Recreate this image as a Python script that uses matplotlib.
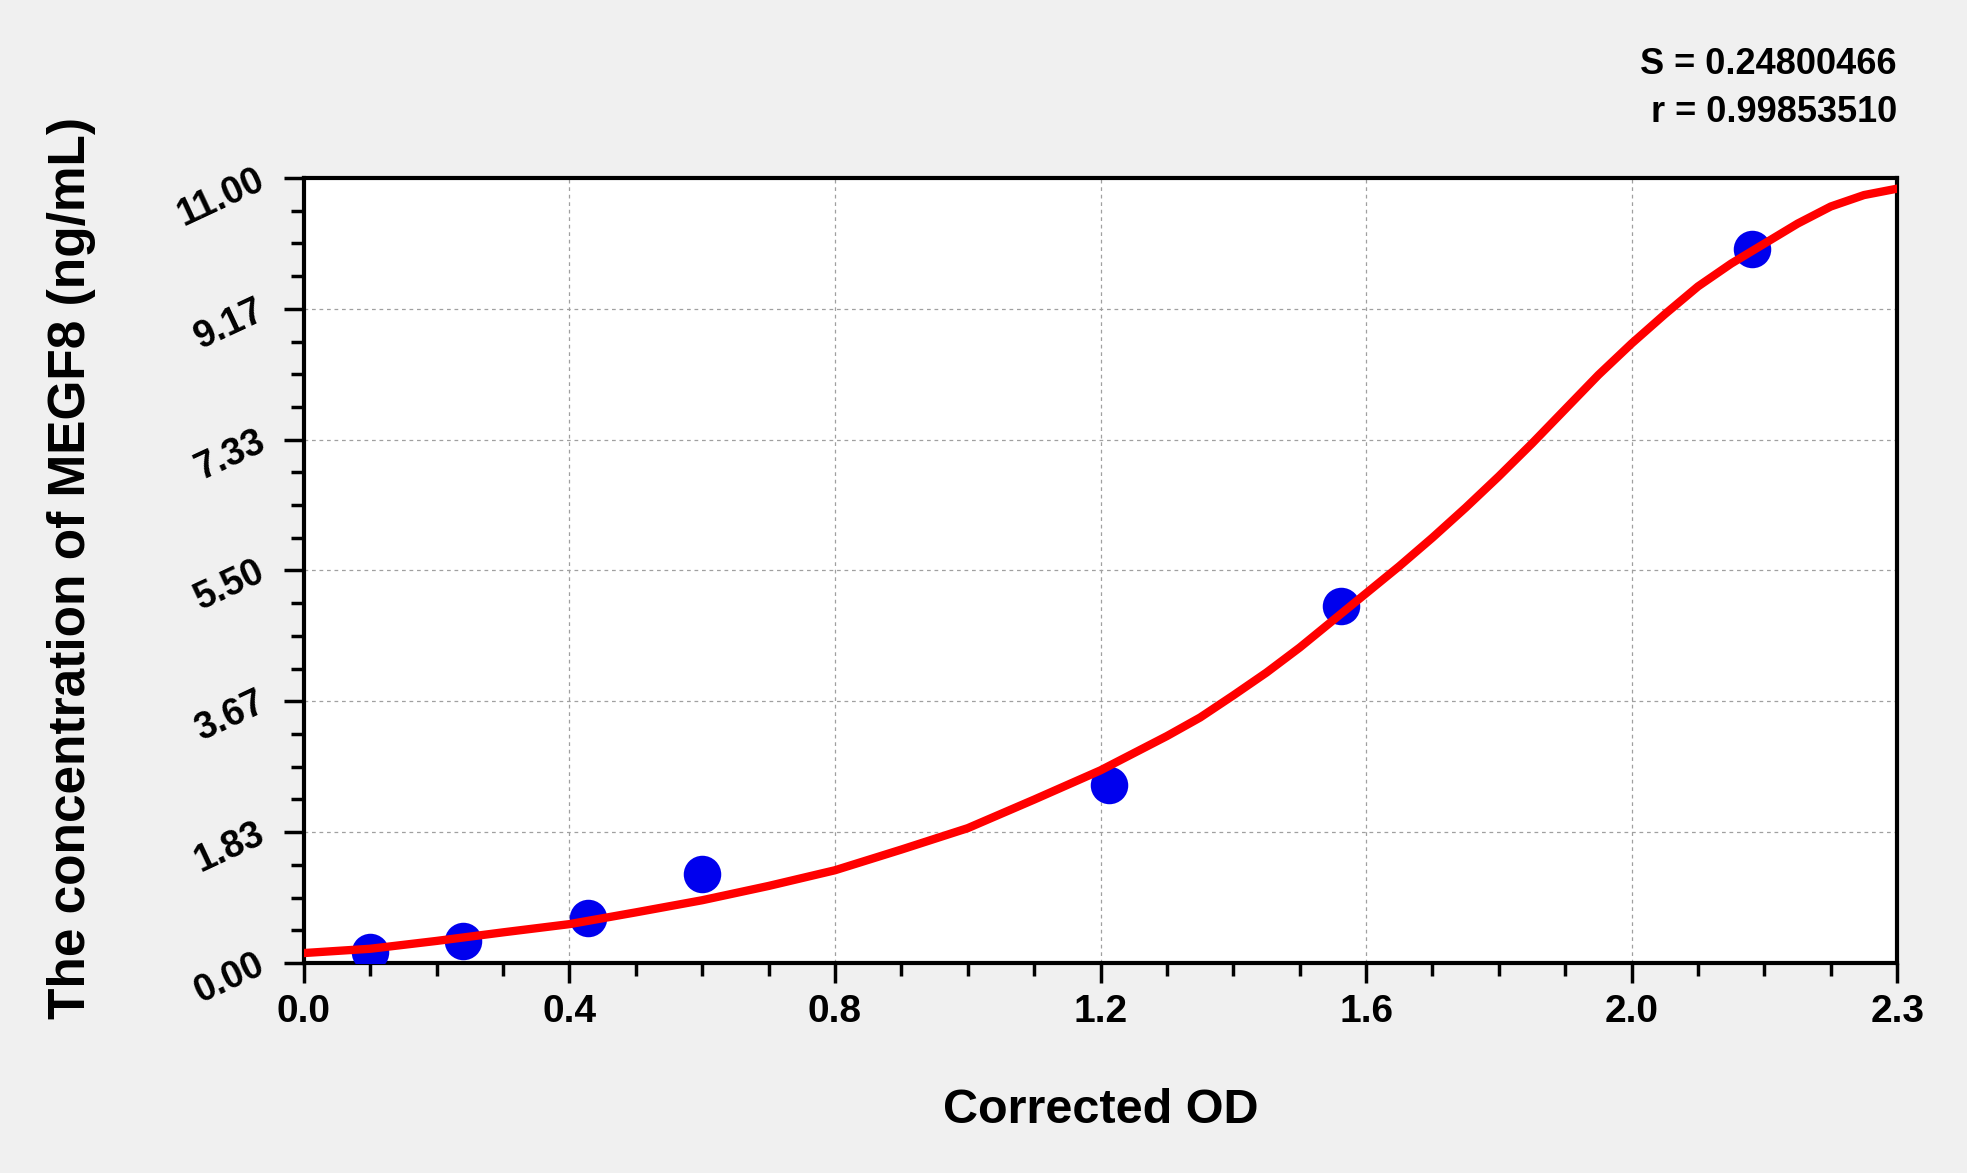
import matplotlib
matplotlib.use("Agg")
import matplotlib.pyplot as plt
from matplotlib.ticker import MultipleLocator
import numpy as np

plt.rcParams['font.family'] = ['Liberation Sans', 'DejaVu Sans']
plt.rcParams['font.weight'] = 'bold'

# standards
od = [0.099, 0.239, 0.428, 0.599, 1.212, 1.562, 2.181]
conc = [0.156, 0.313, 0.625, 1.25, 2.5, 5.0, 10.0]

# fitted curve
curve_od = [0.0, 0.1, 0.2, 0.3, 0.4, 0.5, 0.6, 0.7, 0.8, 0.9, 1.0, 1.1, 1.2,
            1.3, 1.35, 1.4, 1.45, 1.5, 1.55, 1.6, 1.65, 1.7, 1.75, 1.8, 1.85,
            1.9, 1.95, 2.0, 2.05, 2.1, 2.15, 2.2, 2.25, 2.3, 2.35, 2.4]
curve_conc = [0.14, 0.20, 0.31, 0.43, 0.545, 0.71, 0.88, 1.08, 1.30, 1.59, 1.89,
              2.29, 2.70, 3.18, 3.44, 3.75, 4.07, 4.42, 4.80, 5.18, 5.56, 5.96,
              6.38, 6.82, 7.28, 7.76, 8.24, 8.68, 9.09, 9.48, 9.80, 10.08,
              10.36, 10.60, 10.76, 10.85]

xticks = [0.0, 0.4, 0.8, 1.2, 1.6, 2.0, 2.4]
xlabels = ["0.0", "0.4", "0.8", "1.2", "1.6", "2.0", "2.3"]
yticks = [0.0, 11/6, 22/6, 33/6, 44/6, 55/6, 11.0]
ylabels = ["0.00", "1.83", "3.67", "5.50", "7.33", "9.17", "11.00"]

fig = plt.figure(figsize=(19.67, 11.73), dpi=100, facecolor='#f0f0f0')
ax = fig.add_axes([0.1545, 0.179, 0.81, 0.6693])
ax.set_facecolor('white')

ax.plot(od, conc, 'o', color='#0000ee', markersize=27, markeredgewidth=0, zorder=3)
ax.plot(curve_od, curve_conc, '-', color='#ff0000', lw=6, zorder=4,
        solid_capstyle='round', solid_joinstyle='round')

ax.set_xlim(0, 2.4)
ax.set_ylim(0, 11)
ax.set_xticks(xticks)
ax.set_xticklabels(xlabels, fontsize=28, fontweight='bold')
ax.set_yticks(yticks)
ax.set_yticklabels(ylabels, fontsize=27, fontweight='bold', rotation=25,
                   ha='right', va='center', rotation_mode='anchor')
ax.xaxis.set_minor_locator(MultipleLocator(0.1))
ax.yaxis.set_minor_locator(MultipleLocator(11/24))

ax.tick_params(which='major', direction='out', length=14.5, width=2.5, color='black')
ax.tick_params(which='minor', direction='out', length=9.5, width=2.5, color='black')
ax.tick_params(axis='x', which='major', pad=8)
ax.tick_params(axis='y', which='major', pad=15)
ax.tick_params(top=False, right=False, which='both')

for s in ax.spines.values():
    s.set_linewidth(3)
    s.set_color('black')

ax.grid(True, which='major', color='#a0a0a0', lw=0.9, linestyle=(0, (3, 3)))
ax.set_axisbelow(True)

fig.text(0.5597, 0.0529, "Corrected OD", ha='center', va='center',
         fontsize=35, fontweight='bold')
fig.text(0.0363, 0.5158, "The concentration of MEGF8 (ng/mL)", ha='center',
         va='center', rotation=90, fontsize=37, fontweight='bold')

fig.text(0.9644, 0.945, "S = 0.24800466", ha='right', va='center',
         fontsize=26, fontweight='bold')
fig.text(0.9644, 0.9045, "r = 0.99853510", ha='right', va='center',
         fontsize=26, fontweight='bold')

fig.savefig("out.png", dpi=100, facecolor=fig.get_facecolor())
